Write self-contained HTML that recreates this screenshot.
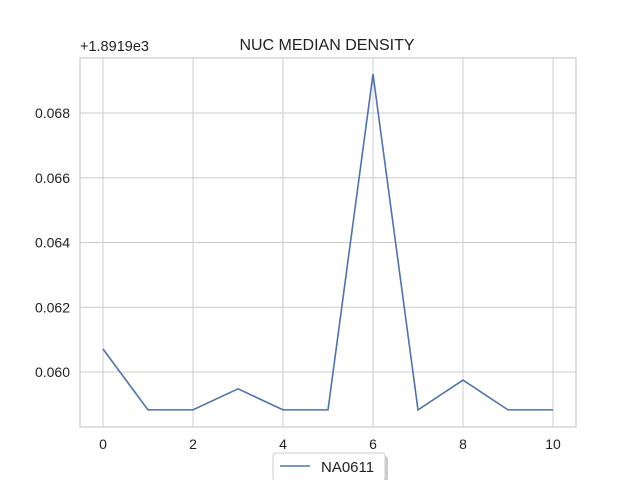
<!DOCTYPE html>
<html><head><meta charset="utf-8"><style>
body{margin:0;background:#fff;}
svg{font-family:"Liberation Sans","DejaVu Sans",sans-serif;}
</style></head><body>
<svg id="chart" width="640" height="480">
<rect x="80" y="58" width="496" height="369" fill="#fff" stroke="#ccc" stroke-width="1.2"/>
<g id="grid"></g>
<text x="327" y="50" text-anchor="middle" font-size="16" fill="#222">NUC MEDIAN DENSITY</text>
<text x="80" y="51" font-size="14.5" fill="#222">+1.8919e3</text>
<polyline id="line" fill="none" stroke="#4c72b0" stroke-width="1.6"/>
<g>
<rect x="276" y="456" width="112" height="28" rx="3" fill="#999" opacity="0.5"/>
<rect x="273" y="453" width="112" height="28" rx="3" fill="#fff" stroke="#ccc"/>
<line x1="280" y1="466" x2="310" y2="466" stroke="#4c72b0" stroke-width="1.6"/>
<text x="321" y="472" font-size="15" fill="#222">NA0611</text>
</g>
</svg>
<script>
const xValues=[0,1,2,3,4,5,6,7,8,9,10];
const yValues=[0.06071,0.05883,0.05883,0.05948,0.05883,0.05883,0.06920,0.05883,0.05975,0.05883,0.05883];
const xTicks=[0,2,4,6,8,10];
const yTicks=[0.060,0.062,0.064,0.066,0.068];
const yTickLabels=["0.060","0.062","0.064","0.066","0.068"];
const NS="http://www.w3.org/2000/svg";
function sx(v){return 103+v*45;}
function sy(v){return 372-(v-0.060)*32375;}
const g=document.getElementById('grid');
xTicks.forEach(t=>{
 const l=document.createElementNS(NS,'line');
 l.setAttribute('x1',sx(t));l.setAttribute('x2',sx(t));l.setAttribute('y1',58);l.setAttribute('y2',427);
 l.setAttribute('stroke','#ccc');
 
 
 g.appendChild(l);
 const tx=document.createElementNS(NS,'text');
 tx.setAttribute('x',sx(t));tx.setAttribute('y',449);tx.setAttribute('text-anchor','middle');
 tx.setAttribute('font-size','14');tx.setAttribute('fill','#222');tx.textContent=t;
 
 
 g.appendChild(tx);
});
yTicks.forEach((t,i)=>{
 const l=document.createElementNS(NS,'line');
 l.setAttribute('x1',80);l.setAttribute('x2',576);l.setAttribute('y1',sy(t));l.setAttribute('y2',sy(t));
 l.setAttribute('stroke','#ccc');
 
 
 g.appendChild(l);
 const tx=document.createElementNS(NS,'text');
 tx.setAttribute('x',70);tx.setAttribute('y',sy(t)+5);tx.setAttribute('text-anchor','end');
 tx.setAttribute('font-size','14');tx.setAttribute('fill','#222');tx.textContent=yTickLabels[i];
 
 
 g.appendChild(tx);
});
document.getElementById('line').setAttribute('points',xValues.map((x,i)=>sx(x)+','+sy(yValues[i])).join(' '));
</script>
</body></html>
